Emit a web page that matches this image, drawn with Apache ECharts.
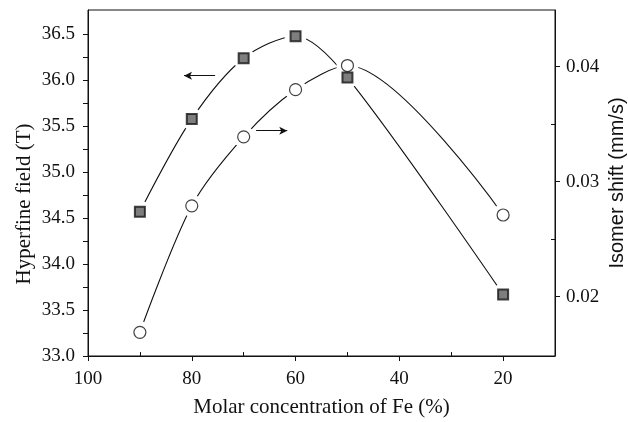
<!DOCTYPE html>
<html>
<head>
<meta charset="utf-8">
<script src="https://cdn.jsdelivr.net/npm/echarts@6/dist/echarts.min.js"></script>
<style>
  html, body { margin: 0; padding: 0; background: #fff; }
  #chart { width: 628px; height: 422px; }
</style>
</head>
<body>
<div id="chart"></div>
<script>
// Molar concentration of Fe (%) for each sample
const feConcentration = [90, 80, 70, 60, 50, 20];
// Hyperfine field (T), left axis
const hyperfineField = [34.57, 35.58, 36.24, 36.48, 36.03, 33.67];
// Isomer shift (mm/s), right axis
const isomerShift = [0.0169, 0.0279, 0.0339, 0.0380, 0.0401, 0.0271];

// Labelled tick values
const concTicks = [100, 80, 60, 40, 20];
const concMinorTicks = [90, 70, 50, 30];
const fieldTicks = [33.0, 33.5, 34.0, 34.5, 35.0, 35.5, 36.0, 36.5];
const shiftTicks = [0.02, 0.03, 0.04];
const shiftMinorTicks = [0.025, 0.035];

// Arrows telling which axis each curve belongs to
const fieldArrow = { from: [75.5, 36.05], to: [81.5, 36.05] };
const shiftArrow = { from: [67.6, 0.03443], to: [61.6, 0.03443] };

const fieldTickAll = [];
for (let v = 33.0; v <= 36.5 + 1e-9; v += 0.25) fieldTickAll.push(+v.toFixed(2));

const pairs = (xs, ys) => xs.map((x, i) => [x, ys[i]]);
const fieldData = pairs(feConcentration, hyperfineField);
const shiftData = pairs(feConcentration, isomerShift);

const ink = '#111';
const serif = '"Liberation Serif", "Times New Roman", serif';
const sans = '"Liberation Sans", Arial, sans-serif';

const chart = echarts.init(document.getElementById('chart'), null, { renderer: 'canvas' });

const arrowLine = (a) => ({
  silent: true,
  symbol: ['none', 'arrow'],
  symbolSize: [6, 8],
  label: { show: false },
  lineStyle: { color: ink, width: 1, type: 'solid' },
  data: [[{ coord: a.from }, { coord: a.to }]]
});

// Curve through the points
const curve = (name, yIndex, data, arrow) => ({
  name, type: 'line', xAxisIndex: 0, yAxisIndex: yIndex,
  data, smooth: 0.3, z: 1,
  showSymbol: false,
  emphasis: { disabled: true },
  lineStyle: { color: ink, width: 1.1 },
  markLine: arrowLine(arrow)
});

// Blank disc round each point so the curve stops short of it
const gap = (yIndex, data) => ({
  type: 'scatter', xAxisIndex: 0, yAxisIndex: yIndex,
  data, z: 3, symbol: 'circle', symbolSize: 22,
  itemStyle: { color: '#fff', opacity: 1 },
  emphasis: { disabled: true }, silent: true
});

chart.setOption({
  animation: false,
  backgroundColor: '#fff',
  grid: {
    left: 88, right: 73, top: 10, bottom: 66,
    show: true, borderColor: ink, borderWidth: 1,
    outerBoundsMode: 'none'
  },
  xAxis: [{
    type: 'value',
    min: 10, max: 100, interval: 10,
    inverse: true,
    position: 'bottom',
    name: 'Molar concentration of Fe (%)',
    nameLocation: 'middle',
    nameGap: 41,
    nameTextStyle: { fontFamily: serif, fontSize: 21, color: ink },
    axisLine: { show: true, onZero: false, lineStyle: { color: ink, width: 1 } },
    axisTick: { show: true, inside: false, length: 5, customValues: concTicks, lineStyle: { color: ink } },
    axisLabel: { show: true, customValues: concTicks, margin: 14, fontFamily: serif, fontSize: 19, color: ink },
    splitLine: { show: false }
  }, {
    type: 'value',
    min: 10, max: 100, interval: 10,
    inverse: true,
    position: 'bottom',
    axisLine: { show: false },
    axisTick: { show: true, inside: true, length: 4, customValues: concMinorTicks, lineStyle: { color: ink } },
    axisLabel: { show: false },
    splitLine: { show: false }
  }],
  yAxis: [{
    type: 'value',
    min: 33, max: 36.765,
    position: 'left',
    axisLine: { show: true, onZero: false, lineStyle: { color: ink, width: 1 } },
    axisTick: { show: true, inside: false, length: 5, customValues: fieldTickAll, lineStyle: { color: ink } },
    axisLabel: {
      show: true, customValues: fieldTicks, margin: 13,
      fontFamily: serif, fontSize: 19, color: ink,
      formatter: (v) => v.toFixed(1)
    },
    splitLine: { show: false }
  }, {
    type: 'value',
    min: 0.01484, max: 0.04493,
    position: 'right',
    axisLine: { show: true, onZero: false, lineStyle: { color: ink, width: 1 } },
    axisTick: { show: true, inside: false, length: 5, customValues: shiftTicks, lineStyle: { color: ink } },
    axisLabel: {
      show: true, customValues: shiftTicks, margin: 11,
      fontFamily: serif, fontSize: 19, color: ink,
      formatter: (v) => v.toFixed(2)
    },
    splitLine: { show: false }
  }, {
    type: 'value',
    min: 0.01484, max: 0.04493,
    position: 'right',
    axisLine: { show: false },
    axisTick: { show: true, inside: true, length: 4, customValues: shiftMinorTicks, lineStyle: { color: ink } },
    axisLabel: { show: false },
    splitLine: { show: false }
  }],
  graphic: [
    { type: 'text', x: 24, y: 204, rotation: Math.PI / 2,
      style: { text: 'Hyperfine field (T)', fontFamily: serif, fontSize: 21, fill: ink, align: 'center', verticalAlign: 'middle' } },
    { type: 'text', x: 617, y: 183, rotation: Math.PI / 2,
      style: { text: 'Isomer shift (mm/s)', fontFamily: sans, fontSize: 20, fill: ink, align: 'center', verticalAlign: 'middle' } }
  ],
  series: [
    curve('field-curve', 0, fieldData, fieldArrow),
    curve('shift-curve', 1, shiftData, shiftArrow),
    gap(0, fieldData),
    gap(1, shiftData),
    // measured points
    {
      name: 'Hyperfine field', type: 'scatter', xAxisIndex: 0, yAxisIndex: 0,
      data: fieldData, z: 4, symbol: 'rect', symbolSize: 10,
      itemStyle: { color: '#5e5e5e', borderColor: '#151515', borderWidth: 2 }
    },
    {
      name: 'Isomer shift', type: 'scatter', xAxisIndex: 0, yAxisIndex: 1,
      data: shiftData, z: 5, symbol: 'circle', symbolSize: 12,
      itemStyle: { color: '#fff', borderColor: ink, borderWidth: 1.2 }
    }
  ]
});
</script>
</body>
</html>
